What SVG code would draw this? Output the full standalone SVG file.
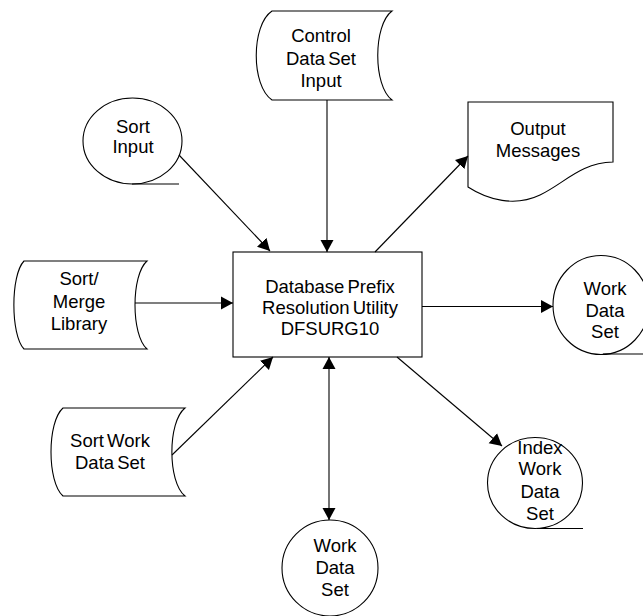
<svg xmlns="http://www.w3.org/2000/svg" width="643" height="616" viewBox="0 0 643 616">
  <style>
    .shape { fill: #ffffff; stroke: #000000; stroke-width: 1.1; }
    .tail { fill: none; stroke: #000000; stroke-width: 1.1; }
    .label { font-family: "Liberation Sans", Arial, Helvetica, sans-serif; font-size: 18.5px; fill: #000000; text-anchor: middle; word-spacing: -2px; }
    .conn { fill: none; stroke: #000000; stroke-width: 1.1; }
  </style>
  <defs>
    <marker id="arrow" markerUnits="userSpaceOnUse" markerWidth="13" markerHeight="14" refX="12" refY="7" orient="auto-start-reverse">
      <path d="M0,0.5 L12,7 L0,13.5 z" fill="#000000"/>
    </marker>
  </defs>
  <rect width="643" height="616" fill="#ffffff"/>

  <!-- central program box -->
  <g id="utility">
    <rect class="shape" x="233" y="252" width="189" height="105"/>
    <text class="label" x="330" y="293">Database Prefix</text>
    <text class="label" x="330" y="313.5">Resolution Utility</text>
    <text class="label" x="330" y="335">DFSURG10</text>
  </g>

  <!-- stored data: control statements -->
  <g id="control-input">
    <path class="shape" d="M272,11 L392,11 C373,25 373,86 392,100 L272,100 C251,86 251,25 272,11 Z"/>
    <text class="label" x="321" y="42">Control</text>
    <text class="label" x="321" y="65">Data Set</text>
    <text class="label" x="321" y="87">Input</text>
  </g>

  <!-- sequential data set: sort input -->
  <g id="sort-input">
    <ellipse class="shape" cx="132.5" cy="141" rx="49.5" ry="43"/>
    <path class="tail" d="M132,184 L179,184"/>
    <text class="label" x="133" y="133">Sort</text>
    <text class="label" x="133" y="153">Input</text>
  </g>

  <!-- printed output -->
  <g id="output-messages">
    <path class="shape" d="M468,102 L613,102 L613,162 C580,163 565,183 540,195 C515,207 488,200 468,187 Z"/>
    <text class="label" x="538" y="135">Output</text>
    <text class="label" x="538" y="157">Messages</text>
  </g>

  <!-- stored data: sort/merge library -->
  <g id="sort-merge-library">
    <path class="shape" d="M24,261 L147,261 C131,275 131,335 147,349 L24,349 C10.5,335 10.5,275 24,261 Z"/>
    <text class="label" x="79" y="285">Sort/</text>
    <text class="label" x="79" y="307.5">Merge</text>
    <text class="label" x="79" y="330">Library</text>
  </g>

  <!-- sequential data set: work data set (right) -->
  <g id="work-data-set-right">
    <ellipse class="shape" cx="601" cy="305" rx="48" ry="49.5"/>
    <path class="tail" d="M603,354 L643,354"/>
    <text class="label" x="605" y="295">Work</text>
    <text class="label" x="605" y="317">Data</text>
    <text class="label" x="605" y="338">Set</text>
  </g>

  <!-- stored data: sort work data set -->
  <g id="sort-work-data-set">
    <path class="shape" d="M63,408 L185,408 C167.5,422 167.5,482 185,496 L63,496 C47,482 47,422 63,408 Z"/>
    <text class="label" x="110" y="447">Sort Work</text>
    <text class="label" x="110" y="468.5">Data Set</text>
  </g>

  <!-- sequential data set: index work data set -->
  <g id="index-work-data-set">
    <ellipse class="shape" cx="535" cy="483" rx="47.5" ry="45.5"/>
    <path class="tail" d="M537,528.5 L583,528.5"/>
    <text class="label" x="540" y="453.5">Index</text>
    <text class="label" x="540" y="475">Work</text>
    <text class="label" x="540" y="497.5">Data</text>
    <text class="label" x="540" y="519.5">Set</text>
  </g>

  <!-- sequential data set: work data set (bottom) -->
  <g id="work-data-set-bottom">
    <ellipse class="shape" cx="330" cy="568" rx="48" ry="48"/>
    <text class="label" x="335" y="552">Work</text>
    <text class="label" x="335" y="573.5">Data</text>
    <text class="label" x="335" y="596">Set</text>
  </g>

  <!-- data flows -->
  <g id="connectors">
    <path class="conn" d="M179,155 L270,251" marker-end="url(#arrow)"/>
    <path class="conn" d="M327,100 L327,252" marker-end="url(#arrow)"/>
    <path class="conn" d="M375,252 L468,156" marker-end="url(#arrow)"/>
    <path class="conn" d="M135,303 L233,303" marker-end="url(#arrow)"/>
    <path class="conn" d="M422,306.5 L553,306.5" marker-end="url(#arrow)"/>
    <path class="conn" d="M172,455 L273,357" marker-end="url(#arrow)"/>
    <path class="conn" d="M329,357 L329,520" marker-start="url(#arrow)" marker-end="url(#arrow)"/>
    <path class="conn" d="M397,357 L502,446" marker-end="url(#arrow)"/>
  </g>
</svg>
